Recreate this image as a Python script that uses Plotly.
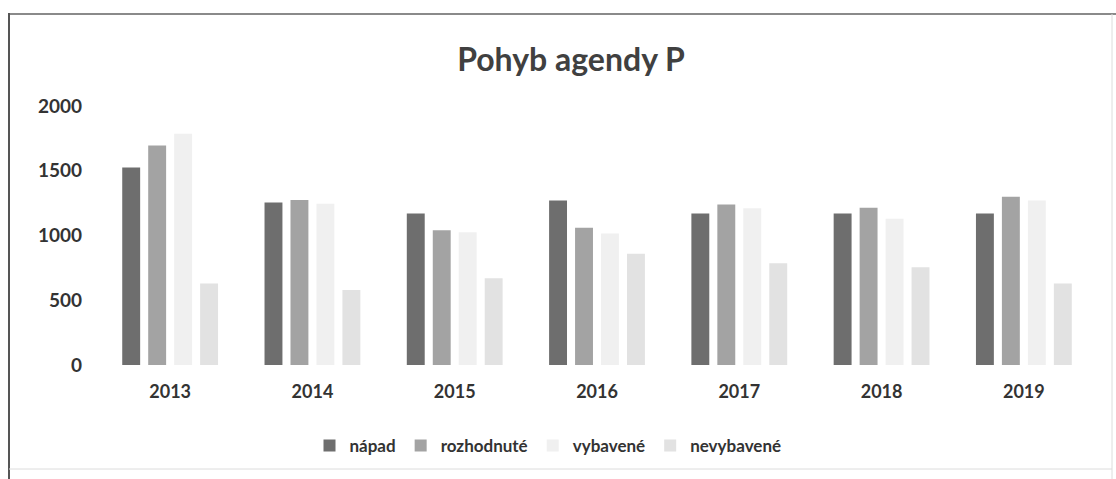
import plotly.graph_objects as go

years = ["2013", "2014", "2015", "2016", "2017", "2018", "2019"]
napad = [1525, 1255, 1170, 1270, 1170, 1170, 1170]
rozhodnute = [1695, 1275, 1040, 1060, 1240, 1215, 1300]
vybavene = [1785, 1245, 1025, 1015, 1210, 1130, 1270]
nevybavene = [630, 580, 670, 860, 785, 755, 630]

series_names = ["nápad", "rozhodnuté", "vybavené", "nevybavené"]
series_values = [napad, rozhodnute, vybavene, nevybavene]
colors = ["#6e6e6e", "#a3a3a3", "#f0f0f0", "#e2e2e2"]

FONT = "Lato"
TXT = "#333333"

fig = go.Figure()
for name, vals, col in zip(series_names, series_values, colors):
    fig.add_trace(go.Bar(
        x=years, y=vals, name=name,
        marker=dict(color=col, line=dict(width=0)),
    ))

L, R, T, B = 99, 1095, 106, 365
W, H = 1116, 479

def px(x):
    return (x - L) / (R - L)

def py(y):
    return (B - y) / (B - T)

shapes = [
    dict(type="line", xref="paper", yref="paper", x0=px(9), x1=px(1116), y0=py(14), y1=py(14),
         line=dict(color="#8a8a8a", width=2)),
    dict(type="line", xref="paper", yref="paper", x0=px(9), x1=px(9), y0=py(13), y1=py(479),
         line=dict(color="#555555", width=2)),
    dict(type="line", xref="paper", yref="paper", x0=px(1112), x1=px(1112), y0=py(14), y1=py(479),
         line=dict(color="#dcdcdc", width=1)),
    dict(type="line", xref="paper", yref="paper", x0=px(9), x1=px(1112), y0=py(469), y1=py(469),
         line=dict(color="#dcdcdc", width=1)),
]

fig.update_layout(
    width=W, height=H,
    margin=dict(l=L, r=W - R, t=T, b=H - B, pad=0),
    paper_bgcolor="white", plot_bgcolor="white",
    barmode="group", bargap=0.27, bargroupgap=0.31,
    title=dict(text="Pohyb agendy P", x=571 / W, xref="container", xanchor="center",
               y=1 - 60 / H, yref="container", yanchor="middle",
               font=dict(family=FONT, size=32, color="#404040", weight="bold")),
    xaxis=dict(showgrid=False, showline=False, zeroline=False, ticks="",
               tickfont=dict(family=FONT, size=18, color=TXT, weight="bold"),
               ticklabelstandoff=14),
    yaxis=dict(range=[0, 2000], tickvals=[0, 500, 1000, 1500, 2000], showgrid=False,
               showline=False, zeroline=False, ticks="",
               tickfont=dict(family=FONT, size=19, color=TXT, weight="bold"),
               ticklabelstandoff=16),
    legend=dict(orientation="h", x=px(548), xanchor="center", y=py(446), yanchor="middle",
                font=dict(family=FONT, size=17, color=TXT, weight="bold"),
                itemwidth=30, traceorder="normal"),
    shapes=shapes,
    showlegend=True,
)

fig.write_html("out.html",
               config={"displayModeBar": False},
               post_script="document.body.style.margin='0px';document.body.style.overflow='hidden';")
